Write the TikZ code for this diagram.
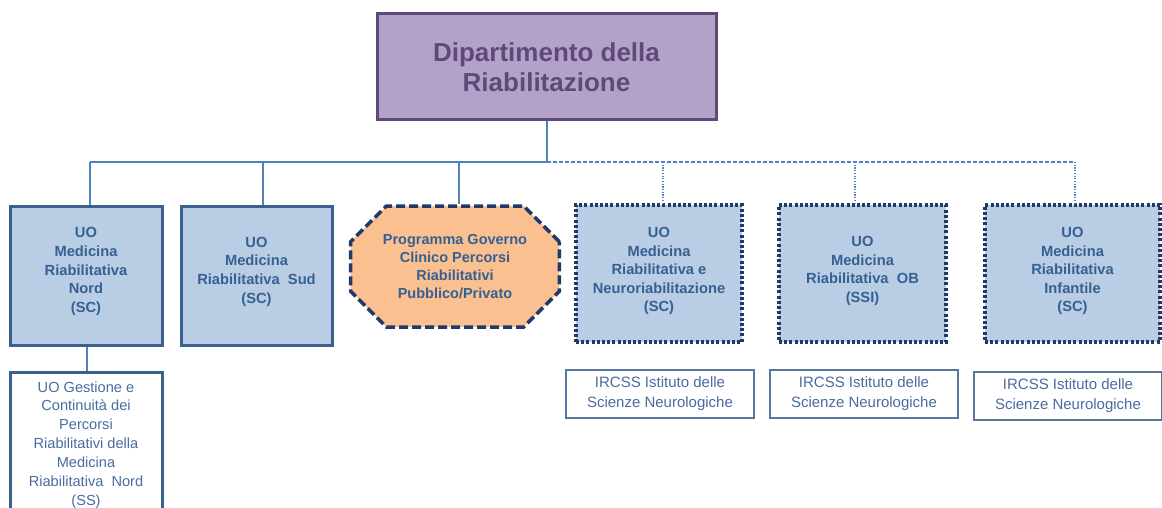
\documentclass[tikz,border=0pt]{standalone}
\usepackage{fontspec}
\setmainfont{Liberation Sans}
\usetikzlibrary{shapes.misc}
\definecolor{purfill}{HTML}{B3A2C7}
\definecolor{purdraw}{HTML}{5F497A}
\definecolor{bluefill}{HTML}{B9CDE5}
\definecolor{bluedraw}{HTML}{3B5F8E}
\definecolor{bluetext}{HTML}{376092}
\definecolor{navy}{HTML}{1F3A68}
\definecolor{orfill}{HTML}{FAC090}
\definecolor{conn}{HTML}{4F81BD}
\definecolor{lighttext}{HTML}{4A6CA0}
\tikzset{
  title/.style={draw=purdraw, fill=purfill, line width=3pt, minimum width=339pt, minimum height=106pt,
    text=purdraw, font=\fontsize{26}{30}\selectfont\bfseries, align=center, inner sep=0pt},
  solidbox/.style={draw=bluedraw, fill=bluefill, line width=3pt, inner sep=0pt, text depth=11pt,
    text=bluetext, font=\fontsize{14.7}{18.7}\selectfont\bfseries, align=center},
  dotbox/.style={draw=navy, fill=bluefill, line width=3.5pt, dash pattern=on 3pt off 2.2pt, inner sep=0pt,
    text depth=8pt, text=bluetext, font=\fontsize{14.7}{18.5}\selectfont\bfseries, align=center},
  octo/.style={chamfered rectangle, chamfered rectangle xsep=36pt, draw=navy, fill=orfill, line width=3.5pt,
    dash pattern=on 9pt off 4pt, inner sep=0pt, text=bluetext,
    font=\fontsize{14.5}{18}\selectfont\bfseries, align=center},
  subbox/.style={draw=bluedraw, fill=white, line width=3pt, inner sep=0pt,
    text=lighttext, font=\fontsize{14.6}{18.9}\selectfont, align=center},
  irbox/.style={draw=bluedraw!85, fill=white, line width=1.5pt, inner sep=0pt,
    text=lighttext, font=\fontsize{15}{20}\selectfont, align=center},
  link/.style={draw=conn, line width=1.6pt},
  dlink/.style={draw=conn, line width=1.4pt, dash pattern=on 4pt off 2pt},
  dotlink/.style={draw=conn, line width=1.2pt, dash pattern=on 1.2pt off 1.5pt},
}
\begin{document}
\begin{tikzpicture}[x=1pt,y=-1pt]
\useasboundingbox (0,0) rectangle (1162,508);
\node[title] (dep) at (546.5,67) {Dipartimento della\\Riabilitazione};
\node[solidbox, minimum width=152pt, minimum height=139pt] (nord) at (86,275.5) {UO\\Medicina\\Riabilitativa\\Nord\\(SC)};
\node[solidbox, minimum width=151pt, minimum height=139pt] (sud) at (256.5,275.5) {UO\\Medicina\\Riabilitativa~~Sud\\(SC)};
\node[octo, minimum width=206pt, minimum height=121pt] (prog) at (455,266.5) {Programma Governo\\Clinico Percorsi\\Riabilitativi\\Pubblico/Privato};
\node[dotbox, minimum width=166pt, minimum height=137pt] (neuro) at (659,273.5) {UO\\Medicina\\Riabilitativa e\\Neuroriabilitazione\\(SC)};
\node[dotbox, minimum width=167pt, minimum height=137pt] (ob) at (862.5,273.5) {UO\\Medicina\\Riabilitativa~~OB\\(SSI)};
\node[dotbox, minimum width=175pt, minimum height=137pt] (inf) at (1072.5,273.5) {UO\\Medicina\\Riabilitativa\\Infantile\\(SC)};
\node[subbox, minimum width=152pt, minimum height=146pt] (gest) at (86,445) {UO Gestione e\\Continuità dei\\Percorsi\\Riabilitativi della\\Medicina\\Riabilitativa~~Nord\\(SS)};
\node[irbox, minimum width=188pt, minimum height=48pt] (ir1) at (660,394) {IRCSS Istituto delle\\Scienze Neurologiche};
\node[irbox, minimum width=188pt, minimum height=48pt] (ir2) at (864,394) {IRCSS Istituto delle\\Scienze Neurologiche};
\node[irbox, minimum width=188pt, minimum height=48pt] (ir3) at (1068,396) {IRCSS Istituto delle\\Scienze Neurologiche};
% bus
\coordinate (bus) at (547,162);
\coordinate (j1) at (90,162);
\coordinate (j2) at (263,162);
\coordinate (j3) at (459,162);
\coordinate (j4) at (663,162);
\coordinate (j5) at (855,162);
\coordinate (j6) at (1075,162);
\draw[link] (dep.south -| bus) -- (bus);
\draw[link] (j1) -- (bus);
\draw[dlink] (bus) -- (j6);
\draw[link] (j1) -- (j1 |- nord.north);
\draw[link] (j2) -- (j2 |- sud.north);
\draw[link] (j3) -- (j3 |- prog.north);
\draw[dotlink] (j4) -- (j4 |- neuro.north);
\draw[dotlink] (j5) -- (j5 |- ob.north);
\draw[dotlink] (j6) -- (j6 |- inf.north);
\coordinate (n1) at ([xshift=1pt]nord.south);
\draw[link] (n1) -- (n1 |- gest.north);
\end{tikzpicture}
\end{document}
